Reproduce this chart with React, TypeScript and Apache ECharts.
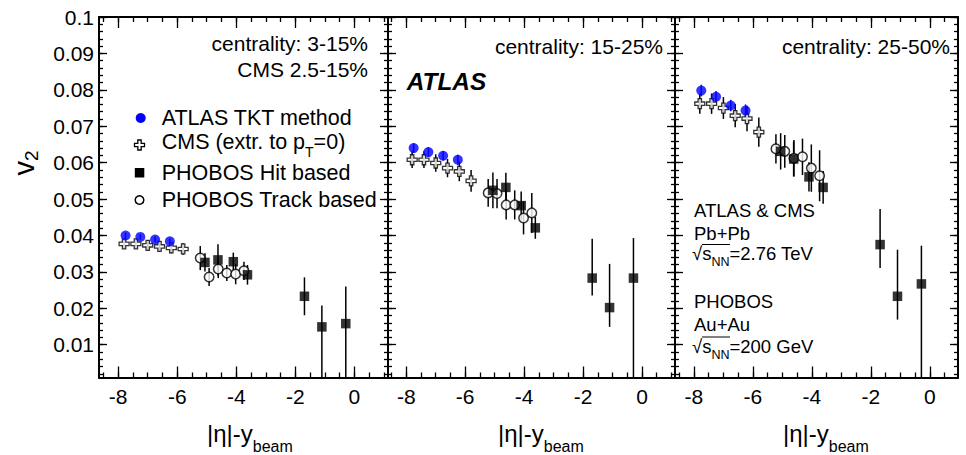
import React, { useEffect, useRef } from 'react';
import * as echarts from 'echarts';

// ---------------- data ----------------
const atlasX = [-7.75, -7.25, -6.75, -6.25];
const atlasV2 = [
  [0.04, 0.0396, 0.0389, 0.0384],
  [0.064, 0.0629, 0.0619, 0.0608],
  [0.0798, 0.0781, 0.0757, 0.0743],
];
const atlasErr = [
  [0.0008, 0.0008, 0.0008, 0.0008],
  [0.0013, 0.0013, 0.0013, 0.0014],
  [0.0016, 0.0016, 0.0016, 0.0017],
];

const cmsX = [-7.8, -7.4, -7.0, -6.6, -6.2, -5.8];
const cmsV2 = [
  [0.0377, 0.0377, 0.0373, 0.037, 0.0366, 0.0363],
  [0.0608, 0.0608, 0.0599, 0.0585, 0.0576, 0.055],
  [0.0762, 0.0762, 0.075, 0.0729, 0.0721, 0.0684],
];
const cmsErr = [
  [0.0013, 0.0013, 0.0013, 0.0014, 0.0015, 0.0016],
  [0.0023, 0.0023, 0.0024, 0.0025, 0.0027, 0.003],
  [0.0028, 0.0028, 0.003, 0.0032, 0.0035, 0.004],
];

const hitX = [-5.06, -4.62, -4.1, -3.62, -1.69, -1.1, -0.29];
const hitV2 = [
  [0.0326, 0.0333, 0.0328, 0.0292, 0.0233, 0.0149, 0.0158],
  [0.0524, 0.0532, 0.0482, 0.0421, 0.0283, 0.0202, 0.0283],
  [0.0631, 0.061, 0.0561, 0.0532, 0.0375, 0.0233, 0.0267],
];
const hitErrHi = [
  [0.0025, 0.0043, 0.0025, 0.0027, 0.0052, 0.0059, 0.0102],
  [0.0049, 0.004, 0.0039, 0.003, 0.0108, 0.012, 0.011],
  [0.005, 0.0048, 0.004, 0.0045, 0.0098, 0.0128, 0.0105],
];
const hitErrLo = [
  [0.0025, 0.0043, 0.0025, 0.0027, 0.0052, 0.015, 0.016],
  [0.0049, 0.004, 0.0039, 0.003, 0.0048, 0.0053, 0.03],
  [0.005, 0.0048, 0.004, 0.0045, 0.0064, 0.0064, 0.03],
];

const trackX = [-5.22, -4.92, -4.61, -4.32, -4.02, -3.74];
const trackV2 = [
  [0.0338, 0.0286, 0.0308, 0.0297, 0.0294, 0.0303],
  [0.0517, 0.0515, 0.0484, 0.0484, 0.0448, 0.0462],
  [0.0638, 0.0631, 0.0612, 0.0616, 0.0585, 0.0564],
];
const trackErr = [
  [0.0033, 0.0025, 0.0025, 0.0022, 0.0028, 0.0025],
  [0.0038, 0.004, 0.004, 0.004, 0.0045, 0.0055],
  [0.004, 0.0045, 0.005, 0.005, 0.0065, 0.007],
];

const xMajorTicks = [-8, -6, -4, -2, 0];
const yMajorTicks = [0.01, 0.02, 0.03, 0.04, 0.05, 0.06, 0.07, 0.08, 0.09, 0.1];
const centralityLabels = ['centrality: 3-15%', 'centrality: 15-25%', 'centrality: 25-50%'];
const legendNames = ['ATLAS TKT method', 'CMS (extr. to p{t|T}=0)', 'PHOBOS Hit based', 'PHOBOS Track based'];

// ---------------- layout ----------------
const FONT = 'Liberation Sans';
const Y_MIN = 0.001;
const Y_MAX = 0.1;
const TOP = 17;
const HEIGHT = 360.5;
const gridBoxes = [
  { left: 99, width: 289 },
  { left: 388, width: 287 },
  { left: 675, width: 283 },
];
const xRanges = [
  [-8.65, 1.14],
  [-8.62, 1.12],
  [-8.64, 0.95],
];

const xMinorTicks: number[] = [];
for (let k = -17; k <= 2; k++) xMinorTicks.push(k / 2);
const yMinorTicks: number[] = [];
for (let k = 1; k <= 50; k++) yMinorTicks.push(Math.round(k * 2) / 1000);

const BLUE = '#0000ff';
const CROSS = 'path://M3,0H6V3H9V6H6V9H3V6H0V3H3Z';

function xAxisDef(i: number, pos: 'top' | 'bottom', major: boolean, labels: boolean) {
  return {
    type: 'value',
    gridIndex: i,
    position: pos,
    min: xRanges[i][0],
    max: xRanges[i][1],
    axisLine: { show: major, onZero: false, lineStyle: { color: '#000', width: 2 } },
    axisTick: {
      show: true,
      inside: true,
      length: major ? 11 : 5,
      customValues: major ? xMajorTicks : xMinorTicks,
      lineStyle: { color: '#000', width: 1.3 },
    },
    axisLabel: {
      show: labels,
      customValues: xMajorTicks,
      formatter: (v: number) => String(v),
      fontSize: 21,
      fontFamily: FONT,
      color: '#000',
      margin: 8,
    },
    splitLine: { show: false },
  };
}

function yAxisDef(i: number, pos: 'left' | 'right', major: boolean, labels: boolean) {
  return {
    type: 'value',
    gridIndex: i,
    position: pos,
    min: Y_MIN,
    max: Y_MAX,
    axisLine: { show: major, onZero: false, lineStyle: { color: '#000', width: 2 } },
    axisTick: {
      show: true,
      inside: true,
      length: major ? 8 : 4,
      customValues: major ? yMajorTicks : yMinorTicks,
      lineStyle: { color: '#000', width: 1.3 },
    },
    axisLabel: {
      show: labels,
      customValues: yMajorTicks,
      formatter: (v: number) => String(+v.toFixed(3)),
      fontSize: 21,
      fontFamily: FONT,
      color: '#000',
      margin: 5,
    },
    splitLine: { show: false },
  };
}

function errSeries(i: number, xs: number[], ys: number[], lo: number[], hi: number[], color: string) {
  return {
    type: 'custom',
    xAxisIndex: 4 * i,
    yAxisIndex: 4 * i,
    z: 2,
    silent: true,
    data: xs.map((x, k) => [x, ys[k] - lo[k], ys[k] + hi[k]]),
    renderItem: (_p: any, api: any) => {
      const x = api.value(0);
      const a = api.coord([x, Math.max(api.value(1), Y_MIN)]);
      const b = api.coord([x, Math.min(api.value(2), Y_MAX)]);
      return {
        type: 'line',
        shape: { x1: a[0], y1: a[1], x2: b[0], y2: b[1] },
        style: { stroke: color, lineWidth: 1.5 },
      };
    },
  };
}

function scatter(i: number, xs: number[], ys: number[], symbol: string, size: number, item: any, z: number) {
  return {
    type: 'scatter',
    xAxisIndex: 4 * i,
    yAxisIndex: 4 * i,
    symbol,
    symbolSize: size,
    itemStyle: item,
    z,
    silent: true,
    data: xs.map((x, k) => [x, ys[k]]),
  };
}

function txt(x: number, y: number, text: string, fontSize: number, align = 'left', extra: any = {}) {
  return {
    type: 'text',
    x,
    y,
    z: 20,
    silent: true,
    style: {
      text,
      fontSize,
      fontFamily: FONT,
      fill: '#000',
      textAlign: align,
      align,
      textVerticalAlign: 'middle',
      verticalAlign: 'middle',
      ...extra,
    },
  };
}

function buildOption() {
  const grid = gridBoxes.map((g) => ({ left: g.left, top: TOP, width: g.width, height: HEIGHT, containLabel: false }));
  const xAxis: any[] = [];
  const yAxis: any[] = [];
  const series: any[] = [];
  for (let i = 0; i < 3; i++) {
    xAxis.push(xAxisDef(i, 'bottom', true, true));
    xAxis.push(xAxisDef(i, 'bottom', false, false));
    xAxis.push(xAxisDef(i, 'top', true, false));
    xAxis.push(xAxisDef(i, 'top', false, false));
    yAxis.push(yAxisDef(i, 'left', true, i === 0));
    yAxis.push(yAxisDef(i, 'left', false, false));
    yAxis.push(yAxisDef(i, 'right', true, false));
    yAxis.push(yAxisDef(i, 'right', false, false));

    series.push(errSeries(i, cmsX, cmsV2[i], cmsErr[i], cmsErr[i], '#000'));
    series.push(errSeries(i, atlasX, atlasV2[i], atlasErr[i], atlasErr[i], BLUE));
    series.push(errSeries(i, trackX, trackV2[i], trackErr[i], trackErr[i], '#000'));
    series.push(errSeries(i, hitX, hitV2[i], hitErrLo[i], hitErrHi[i], '#000'));

    series.push(scatter(i, cmsX, cmsV2[i], CROSS, 10, { color: '#fff', borderColor: '#000', borderWidth: 1.3 }, 3));
    series.push(scatter(i, atlasX, atlasV2[i], 'circle', 10, { color: BLUE }, 4));
    series.push(scatter(i, trackX, trackV2[i], 'circle', 9.5, { color: '#fff', borderColor: '#000', borderWidth: 1.5 }, 5));
    series.push(scatter(i, hitX, hitV2[i], 'rect', 9.5, { color: '#000' }, 6));
  }

  const subRich = (fs: number, pad: number) => ({
    fontSize: fs,
    fontFamily: FONT,
    fill: '#000',
    color: '#000',
    padding: [pad, 0, 0, 0],
  });

  const graphic: any[] = [];
  // y title
  graphic.push({
    type: 'text',
    x: 24,
    y: 163,
    rotation: Math.PI / 2,
    z: 20,
    style: {
      text: 'v{s|2}',
      fontSize: 29,
      fontFamily: FONT,
      fill: '#000',
      textAlign: 'center',
      align: 'center',
      textVerticalAlign: 'middle',
      verticalAlign: 'middle',
      rich: { s: subRich(19, 14) },
    },
  });
  // x titles
  const xTitleX = [207, 498, 783];
  xTitleX.forEach((x) => {
    graphic.push(txt(x, 433, '|η|-y{b|beam}', 24, 'left', { rich: { b: subRich(16, 27) } }));
  });
  // centrality labels
  graphic.push(txt(368, 43, centralityLabels[0], 21, 'right'));
  graphic.push(txt(368, 69, 'CMS 2.5-15%', 21, 'right'));
  graphic.push(txt(663, 46.5, centralityLabels[1], 21, 'right'));
  graphic.push(txt(950, 46.5, centralityLabels[2], 21, 'right'));
  // ATLAS
  graphic.push(txt(406.7, 81.7, 'ATLAS', 24.4, 'left', { fontWeight: 'bold', fontStyle: 'italic' }));
  // legend
  const legY = [118, 141.5, 172.7, 200];
  graphic.push({ type: 'circle', z: 20, shape: { cx: 140.7, cy: 118, r: 5 }, style: { fill: BLUE } });
  const c = { x: 139.5, y: 145 };
  const h = 5;
  const a = 5 / 3;
  graphic.push({
    type: 'polygon',
    z: 20,
    shape: {
      points: [
        [c.x - a, c.y - h], [c.x + a, c.y - h], [c.x + a, c.y - a], [c.x + h, c.y - a],
        [c.x + h, c.y + a], [c.x + a, c.y + a], [c.x + a, c.y + h], [c.x - a, c.y + h],
        [c.x - a, c.y + a], [c.x - h, c.y + a], [c.x - h, c.y - a], [c.x - a, c.y - a],
      ],
    },
    style: { fill: '#fff', stroke: '#000', lineWidth: 1.3 },
  });
  graphic.push({ type: 'rect', z: 20, shape: { x: 134.8, y: 168, width: 9.5, height: 9.5 }, style: { fill: '#000' } });
  graphic.push({ type: 'circle', z: 20, shape: { cx: 139.5, cy: 200, r: 4.3 }, style: { fill: '#fff', stroke: '#000', lineWidth: 1.5 } });
  legendNames.forEach((name, k) => {
    graphic.push(txt(161.7, legY[k], name, 21.5, 'left', { rich: { t: subRich(14, 20) } }));
  });
  // panel 3 annotations
  graphic.push(txt(694, 210, 'ATLAS & CMS', 18.5));
  graphic.push(txt(694, 233.3, 'Pb+Pb', 18.5));
  graphic.push(txt(692, 253.3, '√s{n|NN}=2.76 TeV', 18.5, 'left', { rich: { n: subRich(12.5, 18) } }));
  graphic.push(txt(694, 301, 'PHOBOS', 18.5));
  graphic.push(txt(694, 324.3, 'Au+Au', 18.5));
  graphic.push(txt(692, 346, '√s{n|NN}=200 GeV', 18.5, 'left', { rich: { n: subRich(12.5, 18) } }));
  graphic.push({ type: 'line', z: 20, shape: { x1: 702, y1: 244.5, x2: 730, y2: 244.5 }, style: { stroke: '#000', lineWidth: 1 } });
  graphic.push({ type: 'line', z: 20, shape: { x1: 702, y1: 337, x2: 730, y2: 337 }, style: { stroke: '#000', lineWidth: 1 } });

  return {
    animation: false,
    backgroundColor: '#fff',
    textStyle: { fontFamily: FONT },
    grid,
    xAxis,
    yAxis,
    series,
    graphic,
  };
}

export default function App() {
  const ref = useRef<HTMLDivElement>(null);
  useEffect(() => {
    if (!ref.current) return;
    const chart = echarts.init(ref.current, null, { renderer: 'svg' });
    chart.setOption(buildOption() as any);
    return () => chart.dispose();
  }, []);
  return (
    <div
      ref={ref}
      style={{ position: 'fixed', left: 0, top: 0, width: 966, height: 455, background: '#fff' }}
    />
  );
}
